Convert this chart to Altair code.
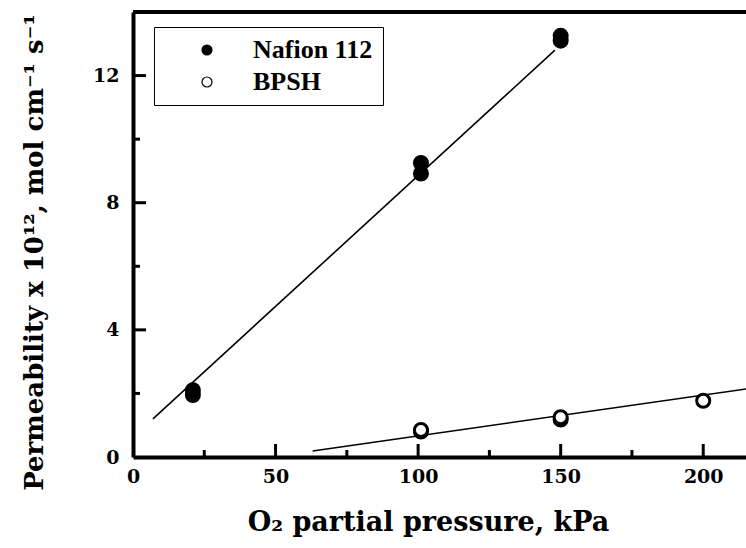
import altair as alt
import pandas as pd

# ---- data ----
naf_x = [21, 21, 101, 101, 150, 150]
naf_y = [1.95, 2.1, 8.92, 9.25, 13.1, 13.25]
bpsh_x = [101, 101, 150, 150, 200]
bpsh_y = [0.8, 0.85, 1.18, 1.25, 1.77]

naf_fit_x = [7, 148]
naf_fit_y = [1.2, 12.8]
bpsh_fit_x = [63, 230]
bpsh_fit_y = [0.19, 2.33]

x_major = [50, 100, 150, 200]
x_minor = [25, 75, 125, 175]
y_major = [4, 8, 12]
y_minor = [2, 6, 10]

series_names = ["Nafion 112", "BPSH"]

pts = pd.DataFrame({
    "x": naf_x + bpsh_x,
    "y": naf_y + bpsh_y,
    "s": [series_names[0]] * len(naf_x) + [series_names[1]] * len(bpsh_x),
})
fits = pd.DataFrame({
    "x": naf_fit_x + bpsh_fit_x,
    "y": naf_fit_y + bpsh_fit_y,
    "s": [series_names[0]] * 2 + [series_names[1]] * 2,
})

W, H = 613, 445
FONT = "DejaVu Serif"

xs = alt.Scale(domain=[0, 215], nice=False, zero=False)
ys = alt.Scale(domain=[0, 14], nice=False)

xaxis = alt.Axis(values=[0, 50, 100, 150, 200], ticks=False, grid=False,
                 domainWidth=4, domainColor="black", labelFont=FONT,
                 labelFontWeight="bold", labelFontSize=19, labelColor="black",
                 labelPadding=10, labelFlush=False,
                 title="O\u2082 partial pressure, kPa", titleFont=FONT,
                 titleFontSize=27, titleFontWeight="bold", titleColor="black",
                 titleX=295, titleY=65, titleBaseline="middle", titleAlign="center")
yaxis = alt.Axis(values=[0, 4, 8, 12], ticks=False, grid=False,
                 domainWidth=4, domainColor="black", labelFont=FONT,
                 labelFontWeight="bold", labelFontSize=19, labelColor="black",
                 labelPadding=14, labelFlush=False,
                 title="Permeability x 10\u00b9\u00b2, mol cm\u207b\u00b9 s\u207b\u00b9",
                 titleFont=FONT, titleFontSize=26, titleFontWeight="bold",
                 titleColor="black", titleX=-99, titleY=240, titleAngle=270,
                 titleBaseline="middle", titleAlign="center")

points = alt.Chart(pts).mark_point(shape="circle", filled=True, size=170,
                                   stroke="black", strokeWidth=3, opacity=1,
                                   clip=True).encode(
    x=alt.X("x:Q", scale=xs, axis=xaxis),
    y=alt.Y("y:Q", scale=ys, axis=yaxis),
    fill=alt.Fill("s:N", scale=alt.Scale(domain=series_names, range=["black", "white"]),
                  legend=alt.Legend(orient="none", legendX=21, legendY=15, title=None,
                                    strokeColor="black", fillColor="white",
                                    padding=10, labelFont="Liberation Serif",
                                    labelFontSize=26, labelFontWeight="bold",
                                    labelColor="black", symbolSize=100,
                                    symbolStrokeWidth=1.2, symbolStrokeColor="black",
                                    symbolOffset=30, labelOffset=33, rowPadding=6,
                                    cornerRadius=0)),
)

lines = alt.Chart(fits).mark_line(color="black", strokeWidth=1.6, clip=True).encode(
    x=alt.X("x:Q", scale=xs), y=alt.Y("y:Q", scale=ys), detail="s:N")

def xticks(vals, length):
    return alt.Chart(pd.DataFrame({"v": vals})).mark_rule(color="black", strokeWidth=3).encode(
        x=alt.X("v:Q", scale=xs), y=alt.value(H), y2=alt.value(H - length))

def yticks(vals, length):
    return alt.Chart(pd.DataFrame({"v": vals})).mark_rule(color="black", strokeWidth=3).encode(
        y=alt.Y("v:Q", scale=ys), x=alt.value(0), x2=alt.value(length))

top = alt.Chart(pd.DataFrame({"v": [0]})).mark_rule(color="black", strokeWidth=4).encode(
    x=alt.value(0), x2=alt.value(W), y=alt.value(0))

chart = alt.layer(
    lines, xticks(x_major, 13), xticks(x_minor, 7), yticks(y_major, 13), yticks(y_minor, 7),
    top, points,
).properties(
    width=W, height=H,
    autosize=alt.AutoSizeParams(type="none"),
    padding={"left": 133, "top": 12, "right": 0, "bottom": 91},
    background="white",
).configure_view(stroke=None)

chart.save("out.html", embed_options={"renderer": "svg", "actions": False})
